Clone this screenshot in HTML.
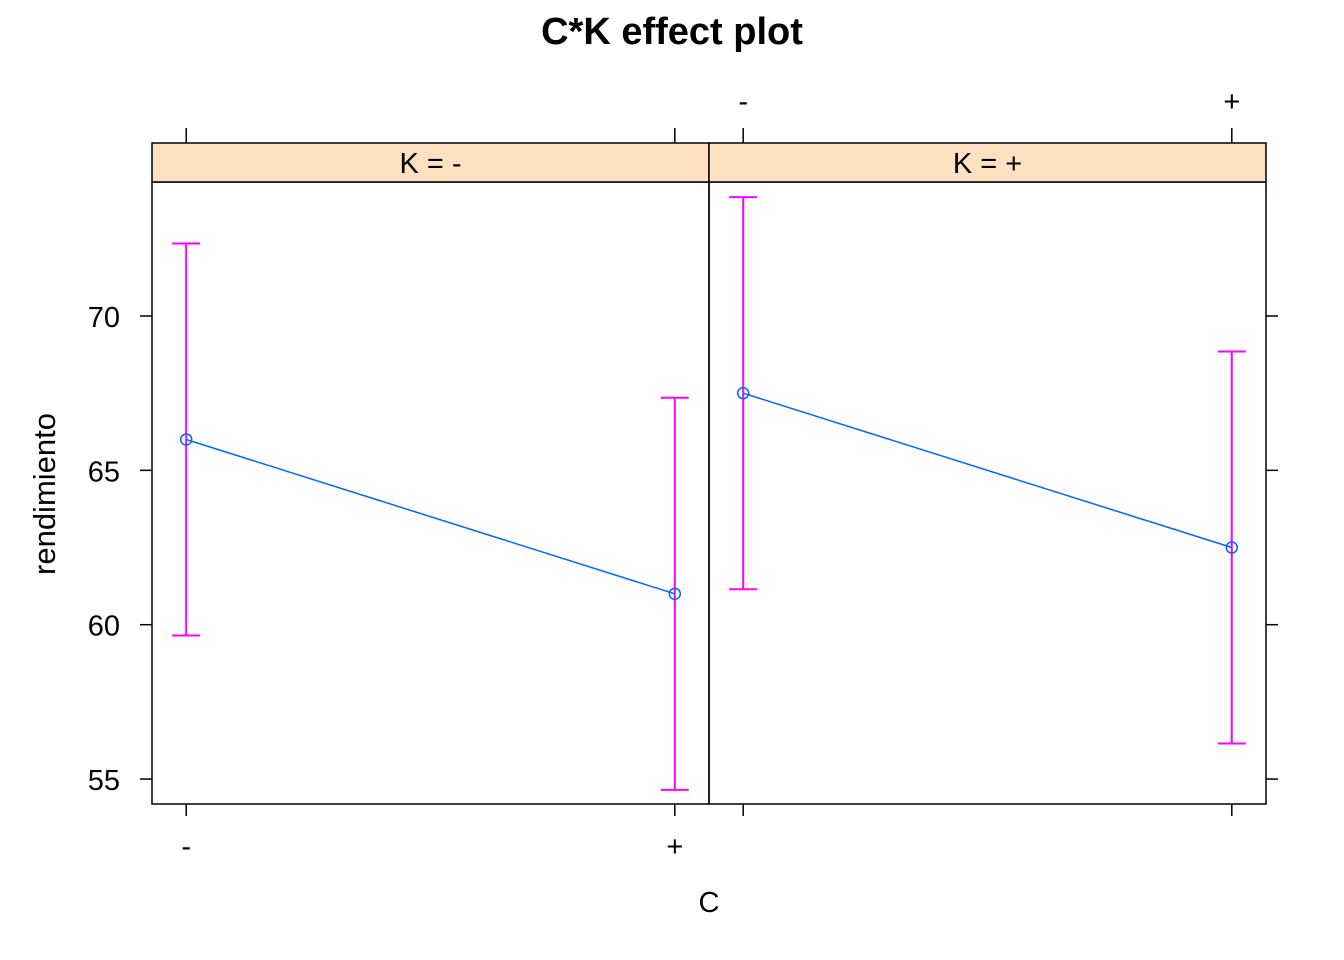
<!DOCTYPE html>
<html><head><meta charset="utf-8"><style>
body{margin:0;background:#fff}
svg{display:block;font-family:"Liberation Sans",Arial,sans-serif}
</style></head><body>
<svg id="c" width="1344" height="960" xmlns="http://www.w3.org/2000/svg">
<text x="672" y="44" text-anchor="middle" font-size="38" font-weight="bold">C*K effect plot</text>
<text x="709" y="912" text-anchor="middle" font-size="29">C</text>
<text transform="translate(55,494) rotate(-90)" text-anchor="middle" font-size="31">rendimiento</text>
<g id="g"></g>
</svg>
<script>
const panels = ["K = -", "K = +"];
const categories = ["-", "+"];
const fitValues = [[66.0, 61.0], [67.5, 62.5]];
const lowerValues = [[59.65, 54.65], [61.15, 56.15]];
const upperValues = [[72.35, 67.35], [73.85, 68.85]];
const yTicks = [55, 60, 65, 70];

const NS = "http://www.w3.org/2000/svg";
const g = document.getElementById('g');
const top0 = 182, bot0 = 804, stripTop = 143;
const pw = 557, pl = 152;
function y(v){ return 316 + (70 - v) * 30.87; }
function x(p, i){ return pl + p * pw + (i + 1 - 0.93) / 1.14 * pw; }
function el(t, a, txt){ const e = document.createElementNS(NS, t); for (const k in a) e.setAttribute(k, a[k]); if (txt !== undefined) e.textContent = txt; g.appendChild(e); return e; }

panels.forEach((name, p) => {
  const x0 = pl + p * pw;
  let r = el('rect', {x: x0, y: top0, width: pw, height: bot0 - top0, fill: 'none', stroke: '#000', 'stroke-width': 1.5});
  
  
  let s = el('rect', {x: x0, y: stripTop, width: pw, height: top0 - stripTop, fill: '#ffe0c0', stroke: '#000', 'stroke-width': 1.5});
  
  
  let st = el('text', {x: x0 + pw / 2, y: 173, 'text-anchor': 'middle', 'font-size': 29}, name);
  
  
  categories.forEach((c, i) => {
    const xx = x(p, i);
    el('line', {x1: xx, x2: xx, y1: bot0, y2: bot0 + 12, stroke: '#000', 'stroke-width': 1.5});
    el('line', {x1: xx, x2: xx, y1: stripTop, y2: stripTop - 15, stroke: '#000', 'stroke-width': 1.5});
    const ly = p === 0 ? 856 : 111;
    let t = el('text', {x: xx, y: ly, 'text-anchor': 'middle', 'font-size': 29}, c);
    
    
    const lo = y(lowerValues[p][i]), hi = y(upperValues[p][i]);
    let eb = el('path', {d: `M${xx},${lo}V${hi}M${xx-14},${lo}H${xx+14}M${xx-14},${hi}H${xx+14}`, stroke: '#ff00ff', 'stroke-width': 2, fill: 'none'});
    
    
  });
  let ln = el('line', {x1: x(p, 0), y1: y(fitValues[p][0]), x2: x(p, 1), y2: y(fitValues[p][1]), stroke: '#0066ff', 'stroke-width': 1.5});
  
  
  categories.forEach((c, i) => {
    let pt = el('circle', {cx: x(p, i), cy: y(fitValues[p][i]), r: 5.5, fill: 'none', stroke: '#0066ff', 'stroke-width': 1.5});
    
    
  });
});
yTicks.forEach(v => {
  const yy = y(v);
  el('line', {x1: 152, x2: 140, y1: yy, y2: yy, stroke: '#000', 'stroke-width': 1.5});
  el('line', {x1: 1266, x2: 1278, y1: yy, y2: yy, stroke: '#000', 'stroke-width': 1.5});
  let t = el('text', {x: 120, y: yy + 11, 'text-anchor': 'end', 'font-size': 29}, v);
  
  
});
</script>
</body></html>
